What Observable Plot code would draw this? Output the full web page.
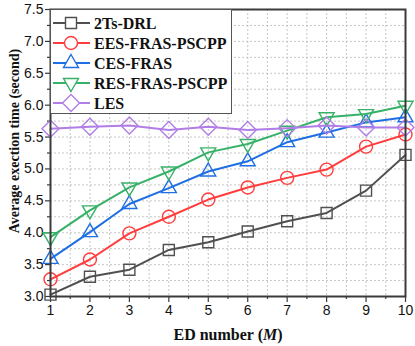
<!DOCTYPE html>
<html><head><meta charset="utf-8">
<script src="https://cdn.jsdelivr.net/npm/d3@7"></script>
<script src="https://cdn.jsdelivr.net/npm/@observablehq/plot@0.6"></script>
<style>
body{margin:0;background:#fff}
#chart{position:relative;width:415px;height:346px}
#legend{position:absolute;left:50px;top:9px}
</style>
</head><body><div id="chart"></div>
<script>
const edNumbers = [1, 2, 3, 4, 5, 6, 7, 8, 9, 10];
const seriesNames = ["2Ts-DRL", "EES-FRAS-PSCPP", "CES-FRAS", "RES-FRAS-PSCPP", "LES"];
const drl  = [3.03, 3.31, 3.42, 3.73, 3.85, 4.02, 4.18, 4.31, 4.66, 5.22];
const ees  = [3.27, 3.58, 3.99, 4.25, 4.52, 4.71, 4.86, 4.99, 5.35, 5.54];
const ces  = [3.59, 4.01, 4.45, 4.70, 4.96, 5.12, 5.42, 5.57, 5.73, 5.81];
const res  = [3.93, 4.35, 4.71, 4.96, 5.26, 5.39, 5.60, 5.81, 5.86, 5.99];
const les  = [5.63, 5.66, 5.68, 5.61, 5.66, 5.61, 5.64, 5.68, 5.65, 5.65];
const seriesValues = [drl, ees, ces, res, les];
const colors = ["#505050", "#ff3d3d", "#1e6fe3", "#36b167", "#b07ee6"];
const xTicks = [1, 2, 3, 4, 5, 6, 7, 8, 9, 10];
const xMinor = [1.5, 2.5, 3.5, 4.5, 5.5, 6.5, 7.5, 8.5, 9.5];
const yTicks = [3.0, 3.5, 4.0, 4.5, 5.0, 5.5, 6.0, 6.5, 7.0, 7.5];
const yMinor = [3.25, 3.75, 4.25, 4.75, 5.25, 5.75, 6.25, 6.75, 7.25];

const symbols = [
  {draw(c){c.moveTo(-5.5,-5.5);c.lineTo(5.5,-5.5);c.lineTo(5.5,5.5);c.lineTo(-5.5,5.5);c.closePath();}},
  {draw(c){c.moveTo(6.5,0);c.arc(0,0,6.5,0,2*Math.PI);c.closePath();}},
  {draw(c){c.moveTo(0,-8.5);c.lineTo(7.5,4.5);c.lineTo(-7.5,4.5);c.closePath();}},
  {draw(c){c.moveTo(0,8.5);c.lineTo(7.5,-4.5);c.lineTo(-7.5,-4.5);c.closePath();}},
  {draw(c){c.moveTo(0,-8.5);c.lineTo(8.5,0);c.lineTo(0,8.5);c.lineTo(-8.5,0);c.closePath();}}
];

const rows = seriesNames.map((name, i) => edNumbers.map((m, j) => ({M: m, value: seriesValues[i][j], series: name})));

const axisColor = "#3a3a3a";
const marks = [
  Plot.ruleY([...yTicks, ...yMinor], {stroke: "#b8b8b8", strokeWidth: 0.8, strokeDasharray: "2,2"}),
  Plot.ruleX([...xTicks, ...xMinor], {stroke: "#b8b8b8", strokeWidth: 0.8, strokeDasharray: "2,2"}),
  Plot.axisX(xTicks, {tickSize: 6, tickPadding: 3, fontSize: 14, label: null, stroke: axisColor, strokeWidth: 1.2, fill: "#111"}),
  Plot.axisX(xMinor, {tickSize: 3, text: null, label: null, stroke: axisColor, strokeWidth: 1.2}),
  Plot.axisY(yTicks, {tickSize: 5, tickPadding: 2, fontSize: 14, tickFormat: d3.format(".1f"), label: null, stroke: axisColor, strokeWidth: 1.2, fill: "#111"}),
  Plot.axisY(yMinor, {tickSize: 3, text: null, label: null, stroke: axisColor, strokeWidth: 1.2})
];
rows.forEach((data, i) => {
  marks.push(Plot.line(data, {x: "M", y: "value", stroke: colors[i], strokeWidth: 2}));
  marks.push(Plot.dot(data, {x: "M", y: "value", stroke: colors[i], strokeWidth: 1.4, fill: "none", symbol: symbols[i], r: 5}));
});
marks.push(Plot.frame({stroke: axisColor, strokeWidth: 2}));

const plot = Plot.plot({
  width: 415, height: 346,
  marginLeft: 50, marginRight: 10, marginTop: 9, marginBottom: 50,
  x: {domain: [1, 10]},
  y: {domain: [3, 7.5]},
  style: {fontFamily: "'Liberation Sans', Arial, sans-serif", fontSize: "14px", background: "#fff", color: "#111"},
  marks
});

const svg = d3.select(plot);
const titleFont = "'Liberation Serif', 'Times New Roman', serif";
const xt = svg.append("text").attr("x", 228).attr("y", 340).attr("text-anchor", "middle")
  .attr("font-family", titleFont).attr("font-weight", "bold").attr("font-size", 16).attr("fill", "#111");
xt.append("tspan").text("ED number (");
xt.append("tspan").attr("font-style", "italic").text("M");
xt.append("tspan").text(")");
svg.append("text").attr("transform", "translate(19,141) rotate(-90)").attr("text-anchor", "middle")
  .attr("font-family", titleFont).attr("font-weight", "bold").attr("font-size", 14).attr("fill", "#111")
  .text("Average exection time (second)");

const chart = document.getElementById("chart");
chart.appendChild(plot);

// legend overlay
const lg = d3.select(chart).append("svg").attr("id", "legend").attr("width", 182).attr("height", 105);
lg.append("rect").attr("x", 0.5).attr("y", 0.5).attr("width", 181).attr("height", 104)
  .attr("fill", "#fff").attr("stroke", "#555").attr("stroke-width", 1);
seriesNames.forEach((name, i) => {
  const cy = 14 + i * 20;
  const g = lg.append("g");
  g.append("line").attr("x1", 3).attr("x2", 40).attr("y1", cy).attr("y2", cy).attr("stroke", colors[i]).attr("stroke-width", 2);
  g.append("path").attr("transform", `translate(21,${cy})`).attr("d", () => { const p = d3.path(); symbols[i].draw(p); return p.toString(); })
    .attr("fill", "#fff").attr("stroke", colors[i]).attr("stroke-width", 1.4);
  g.append("text").attr("x", 44).attr("y", cy + 5.5).attr("font-family", titleFont).attr("font-weight", "bold")
    .attr("font-size", 16).attr("fill", "#111").text(name);
});
</script>
</body></html>
